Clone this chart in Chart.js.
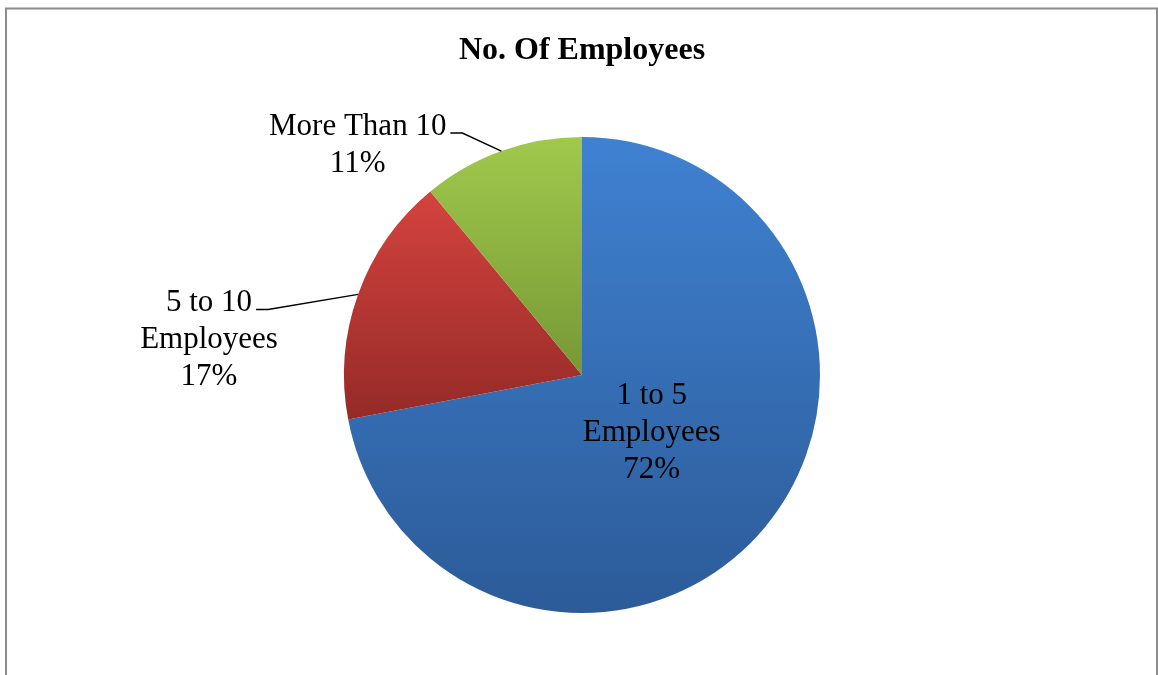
<!DOCTYPE html>
<html>
<head>
<meta charset="utf-8">
<title>No. Of Employees</title>
<script src="https://cdn.jsdelivr.net/npm/chart.js@4.4.1/dist/chart.umd.min.js"></script>
<style>
    html, body { margin: 0; padding: 0; background: #fff; overflow: hidden; }
    #wrap { width: 1158px; height: 675px; position: relative; }
</style>
</head>
<body>
<div id="wrap"><canvas id="pieChart" width="1158" height="675"></canvas></div>
<script>
// chart data
var categories = [['1 to 5', 'Employees'], ['5 to 10', 'Employees'], ['More Than 10']];
var values = [72, 17, 11];
var topColors = ['#3f81d1', '#d4433f', '#a0c94c'];
var bottomColors = ['#2c5b98', '#952a27', '#779835'];

var labelFont = '31px "Liberation Serif", "Times New Roman", serif';

// slice gradient, from top to bottom of each slice's own box
function sliceGradient(context) {
    var chart = context.chart;
    var area = chart.chartArea;
    var i = context.dataIndex;
    if (!area || i === undefined) {
        return topColors[i] || '#888';
    }
    var cx = (area.left + area.right) / 2;
    var cy = (area.top + area.bottom) / 2;
    var r = Math.min(area.right - area.left, area.bottom - area.top) / 2;
    var total = values.reduce(function(a, b) { return a + b; }, 0);
    var before = 0;
    for (var k = 0; k < i; k++) before += values[k];
    var a0 = -Math.PI / 2 + before / total * Math.PI * 2;
    var a1 = a0 + values[i] / total * Math.PI * 2;
    var ys = [cy, cy + r * Math.sin(a0), cy + r * Math.sin(a1)];
    [-Math.PI / 2, Math.PI / 2, Math.PI * 1.5].forEach(function(a) {
        if (a >= a0 && a <= a1) ys.push(cy + r * Math.sin(a));
    });
    var g = chart.ctx.createLinearGradient(0, Math.min.apply(null, ys), 0, Math.max.apply(null, ys));
    g.addColorStop(0, topColors[i]);
    g.addColorStop(1, bottomColors[i]);
    return g;
}

// grey frame round the chart
var framePlugin = {
    id: 'frame',
    beforeDraw: function(chart) {
        var ctx = chart.ctx;
        ctx.save();
        ctx.strokeStyle = '#8c8c8c';
        ctx.lineWidth = 2;
        ctx.beginPath();
        ctx.moveTo(6, 700);
        ctx.lineTo(6, 8.5);
        ctx.lineTo(1157, 8.5);
        ctx.lineTo(1157, 700);
        ctx.stroke();
        ctx.restore();
    }
};

// data labels, inside or outside with a leader line
var sliceLabels = {
    id: 'sliceLabels',
    afterDatasetsDraw: function(chart, args, opts) {
        var ctx = chart.ctx;
        var meta = chart.getDatasetMeta(0);
        var total = values.reduce(function(a, b) { return a + b; }, 0);
        ctx.save();
        ctx.font = labelFont;
        ctx.fillStyle = '#000';
        ctx.textAlign = 'center';
        ctx.textBaseline = 'middle';
        meta.data.forEach(function(arc, i) {
            var p = arc.getProps(['x', 'y', 'startAngle', 'endAngle', 'outerRadius'], true);
            var mid = (p.startAngle + p.endAngle) / 2;
            var lines = categories[i].concat([Math.round(values[i] / total * 100) + '%']);
            var pos = opts.place[i];
            if (pos.inside) {
                var lx = p.x + Math.cos(mid) * p.outerRadius * pos.dist;
                var ly = p.y + Math.sin(mid) * p.outerRadius * pos.dist;
                var top = ly - (lines.length - 1) * opts.lineGap / 2;
                lines.forEach(function(t, j) { ctx.fillText(t, lx, top + j * opts.lineGap); });
                return;
            }
            var ex = p.x + Math.cos(mid) * p.outerRadius;
            var ey = p.y + Math.sin(mid) * p.outerRadius;
            var bx = ex + pos.elbow[0];
            var by = ey + pos.elbow[1];
            var tx = bx - 12;
            ctx.strokeStyle = '#000';
            ctx.lineWidth = 1.5;
            ctx.beginPath();
            ctx.moveTo(ex, ey);
            ctx.lineTo(bx, by);
            ctx.lineTo(tx, by);
            ctx.stroke();
            var w = ctx.measureText(lines[0]).width;
            var cx = tx - 4 - w / 2;
            var cy = by + pos.dy;
            lines.forEach(function(t, j) { ctx.fillText(t, cx, cy + j * opts.lineGap); });
        });
        ctx.restore();
    }
};

var ctx = document.getElementById('pieChart').getContext('2d');
new Chart(ctx, {
    type: 'pie',
    data: {
        labels: categories,
        datasets: [{
            data: values,
            backgroundColor: sliceGradient,
            borderWidth: 0,
            hoverOffset: 0
        }]
    },
    options: {
        responsive: false,
        animation: false,
        events: [],
        layout: {
            padding: { left: 6, right: 0, top: 0, bottom: 62 }
        },
        plugins: {
            legend: { display: false },
            tooltip: { enabled: false },
            title: {
                display: true,
                text: 'No. Of Employees',
                color: '#000',
                font: { family: '"Liberation Serif", "Times New Roman", serif', size: 32, weight: 'bold', lineHeight: 1.2 },
                padding: { top: 32, bottom: 66.6 }
            },
            sliceLabels: {
                lineGap: 37,
                place: [
                    { inside: true, dist: 0.38 },
                    { elbow: [-90, 15], dy: -7 },
                    { elbow: [-39, -18], dy: -6 }
                ]
            }
        }
    },
    plugins: [framePlugin, sliceLabels]
});
</script>
</body>
</html>
